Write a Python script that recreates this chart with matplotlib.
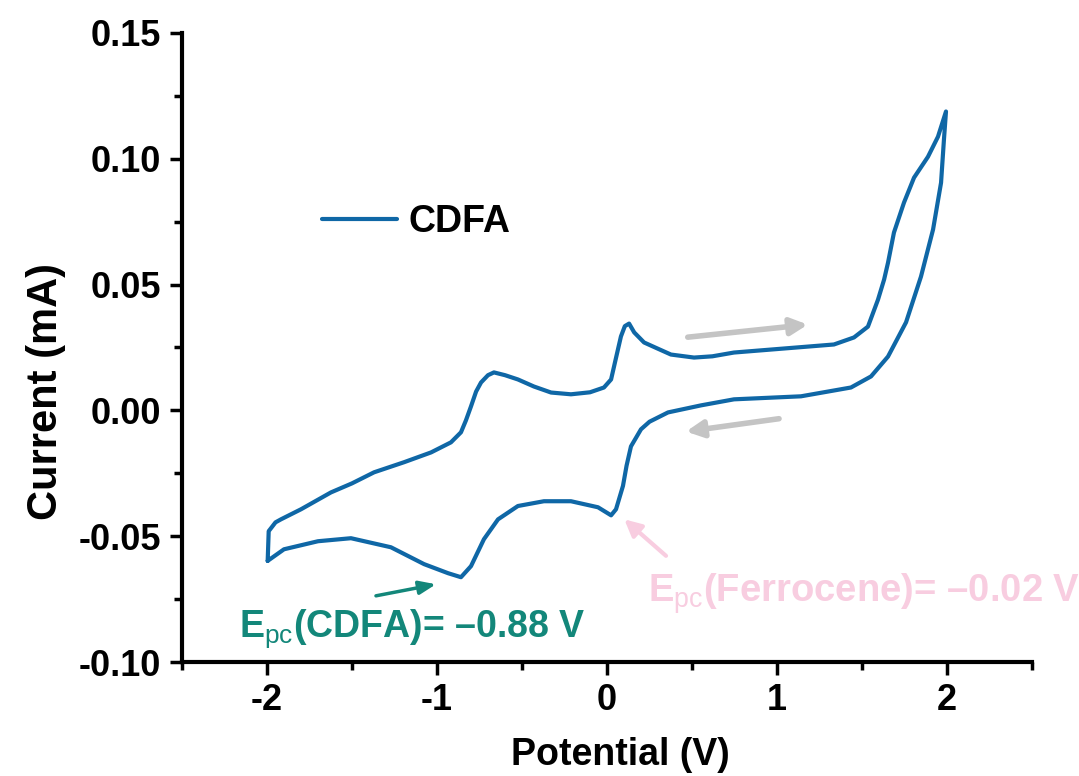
import matplotlib
matplotlib.use("Agg")
import matplotlib.pyplot as plt
from matplotlib.ticker import MultipleLocator

plt.rcParams['font.family'] = ['Liberation Sans', 'DejaVu Sans']
plt.rcParams['mathtext.fontset'] = 'custom'
plt.rcParams['mathtext.rm'] = 'Liberation Sans'
plt.rcParams['mathtext.bf'] = 'Liberation Sans:bold'

# Cyclic voltammogram of CDFA (potential in V, current in mA)
potential = [
    -1.996, -1.99, -1.95, -1.918, -1.8, -1.624, -1.5, -1.37, -1.194, -1.035,
    -0.918, -0.859, -0.83, -0.8, -0.77, -0.741, -0.70, -0.665, -0.6, -0.524,
    -0.43, -0.329, -0.212, -0.10, -0.018, 0.024, 0.05, 0.082, 0.105, 0.13,
    0.16, 0.218, 0.30, 0.376, 0.512, 0.62, 0.747, 1.041, 1.335, 1.453,
    1.535, 1.594, 1.630, 1.653, 1.688, 1.747, 1.806, 1.888, 1.947, 1.994,
    1.982, 1.965, 1.918, 1.847, 1.759, 1.653, 1.553, 1.435, 1.141, 0.747,
    0.553, 0.359, 0.25, 0.2, 0.141, 0.115, 0.094, 0.053, 0.024, -0.053,
    -0.212, -0.371, -0.524, -0.641, -0.724, -0.8, -0.859, -0.935, -1.076, -1.271,
    -1.506, -1.7, -1.9, -1.996,
]
current = [
    -0.0598, -0.048, -0.0445, -0.0433, -0.0393, -0.0326, -0.0290, -0.0246, -0.0206, -0.0167,
    -0.0127, -0.0087, -0.004, 0.0016, 0.0075, 0.0111, 0.0140, 0.0151, 0.0140, 0.0123,
    0.0095, 0.0071, 0.0064, 0.0072, 0.0091, 0.0123, 0.020, 0.0294, 0.0335, 0.0345,
    0.031, 0.027, 0.0245, 0.0222, 0.0210, 0.0215, 0.0230, 0.0246, 0.0262, 0.029,
    0.0333, 0.044, 0.052, 0.0587, 0.0707, 0.0826, 0.0925, 0.1008, 0.1088, 0.1188,
    0.1076, 0.0905, 0.0719, 0.0532, 0.035, 0.0214, 0.0135, 0.0091, 0.0056, 0.0044,
    0.002, -0.0008, -0.0045, -0.0075, -0.0143, -0.022, -0.030, -0.0393, -0.0417, -0.0385,
    -0.0361, -0.0361, -0.038, -0.0433, -0.0512, -0.0619, -0.0663, -0.0647, -0.0611, -0.0544,
    -0.0508, -0.052, -0.0552, -0.0598,
]
series_label = "CDFA"

x_ticks = [-2, -1, 0, 1, 2]
y_ticks = [-0.10, -0.05, 0.00, 0.05, 0.10, 0.15]
x_label = "Potential (V)"
y_label = "Current (mA)"

# annotation arrows: (tail, head) in data coordinates
scan_fwd_arrow = ((0.475, 0.0291), (1.181, 0.0341))
scan_rev_arrow = ((1.012, -0.0033), (0.465, -0.0084))
cdfa_arrow = ((-1.359, -0.0737), (-1.006, -0.0691))
fc_arrow = ((0.347, -0.0578), (0.102, -0.0433))
cdfa_text = "E$_{\\mathrm{pc}}$(CDFA)= \u20130.88 V"
fc_text = "E$_{\\mathrm{pc}}$(Ferrocene)= \u20130.02 V"

line_color = '#0f67a6'
teal = '#13877a'
pink = '#f8cde0'
gray = '#c4c4c4'

fig = plt.figure(figsize=(10.79, 7.76), dpi=100)
ax = fig.add_axes([182/1079, 1-662/776, 850/1079, 629/776])

ax.plot(potential, current, color=line_color, lw=3.0, label=series_label,
        solid_joinstyle='round', solid_capstyle='round')

ax.set_xlim(-2.5, 2.5)
ax.set_ylim(-0.10, 0.15)
ax.set_xticks(x_ticks)
ax.set_xticklabels([str(v) for v in x_ticks])
ax.set_yticks(y_ticks)
ax.set_yticklabels([f"{v:.2f}" for v in y_ticks])
ax.xaxis.set_minor_locator(MultipleLocator(0.5))
ax.yaxis.set_minor_locator(MultipleLocator(0.025))

for s in ['top', 'right']:
    ax.spines[s].set_visible(False)
for s in ['left', 'bottom']:
    ax.spines[s].set_linewidth(3.0)
ax.tick_params(which='major', direction='out', length=9, width=2.5, labelsize=26, pad=6)
ax.tick_params(which='minor', direction='out', length=5.5, width=2.5)
for lab in ax.get_xticklabels() + ax.get_yticklabels():
    lab.set_fontweight('bold')

ax.set_xlabel(x_label, fontsize=27, fontweight='bold')
ax.xaxis.set_label_coords((620-182)/850, -(755-662)/629)
ax.xaxis.label.set_va('center')
ax.set_ylabel(y_label, fontsize=30, fontweight='bold')
ax.yaxis.set_label_coords((46-182)/850, (662-391)/629)
ax.yaxis.label.set_va('center')

leg = ax.legend(loc='center left', bbox_to_anchor=(0.165, 0.70), frameon=False,
                prop={'size': 27, 'weight': 'bold'}, handlelength=2.0,
                handletextpad=0.3, borderpad=0, borderaxespad=0)

def arrow(tail, head, color, width=3.5, hw=8, hl=12):
    ax.annotate('', xy=head, xytext=tail,
                arrowprops=dict(arrowstyle=f'-|>,head_width={hw/10},head_length={hl/10}',
                                color=color, lw=width, shrinkA=0, shrinkB=0),
                annotation_clip=False)

arrow(*scan_fwd_arrow, gray, width=4, hw=5, hl=10)
arrow(*scan_rev_arrow, gray, width=4, hw=5, hl=10)
arrow(*cdfa_arrow, teal, width=2.5, hw=4, hl=10)
arrow(*fc_arrow, pink, width=3, hw=5, hl=10)

ax.text(-2.165, -0.0782, cdfa_text, color=teal, fontsize=27, fontweight='bold',
        ha='left', va='top', clip_on=False)
ax.text(0.241, -0.0639, fc_text, color=pink, fontsize=27.5, fontweight='bold',
        ha='left', va='top', clip_on=False)

fig.savefig('out.png', dpi=100)
